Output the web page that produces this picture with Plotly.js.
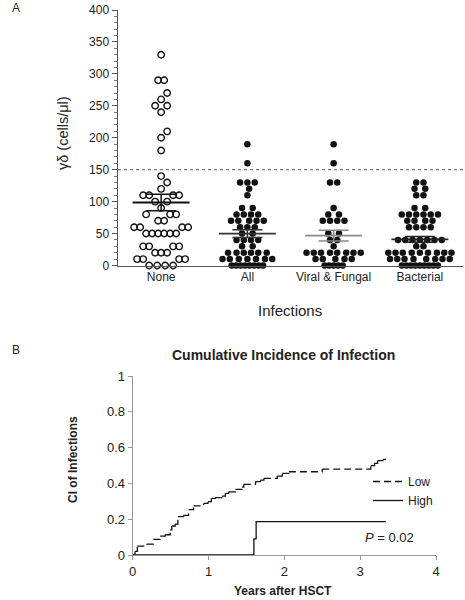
<!DOCTYPE html>
<html>
<head>
<meta charset="utf-8">
<script src="https://cdn.plot.ly/plotly-3.0.1.min.js"></script>
<style>
html,body{margin:0;padding:0;background:#fff;}
#chart{width:465px;height:600px;}
</style>
</head>
<body>
<div id="chart"></div>
<script>
// ---------- Panel A data ----------
const categories = ['None', 'All', 'Viral & Fungal', 'Bacterial'];
const noneValues = [330, 290, 290, 270, 260, 250, 250, 240, 210, 200, 180, 140, 130, 120,
  110, 110, 110, 110, 100, 100, 90, 80, 80, 80, 70, 70, 60, 60, 60, 60,
  50, 50, 50, 50, 50, 50, 30, 30, 30, 30, 20, 20, 20, 10, 10, 10, 10, 0, 0, 0, 0];
const allValues = [190, 160, 130, 130, 130, 120, 110, 90, 90, 80, 80, 80, 80,
  70, 70, 70, 70, 70, 60, 60, 60, 50, 50, 40, 40, 40, 40, 30, 30,
  20, 20, 20, 20, 20, 20, 10, 10, 10, 10, 10, 10, 10, 0, 0, 0, 0, 0, 0, 0, 0];
const viralFungalValues = [190, 160, 130, 130, 90, 80, 80, 70, 70, 70, 70, 50, 50, 40, 40, 30,
  20, 20, 20, 20, 20, 20, 20, 20, 10, 10, 10, 10, 10, 0, 0, 0, 0, 0];
const bacterialValues = [130, 130, 120, 120, 110, 110, 90, 90, 80, 80, 80, 80, 80, 80,
  70, 70, 70, 70, 60, 60, 60, 60, 40, 40, 40, 40, 40, 40, 40, 30, 30,
  20, 20, 20, 20, 20, 20, 20, 20, 20, 10, 10, 10, 10, 10, 10, 10, 10,
  0, 0, 0, 0, 0, 0, 0, 0, 0];
const groupMeans = [98.6, 50, 46.8, 41];
const groupSEM = [13, 6, 8.3, 4.5];
const meanLineColors = ['#111', '#333', '#888', '#222'];
const threshold = 150;

// ---------- Panel B data ----------
const lowYears = [0, 0.03, 0.061, 0.185, 0.273, 0.362, 0.428, 0.494, 0.516, 0.56, 0.596, 0.67,
  0.737, 0.803, 0.935, 0.993, 1.037, 1.09, 1.178, 1.222, 1.267, 1.355, 1.443, 1.465,
  1.62, 1.686, 1.73, 1.907, 1.973, 2.06, 2.5, 3.14, 3.19, 3.23, 3.3, 3.34];
const lowCI = [0, 0.02, 0.05, 0.061, 0.087, 0.106, 0.113, 0.14, 0.162, 0.173, 0.214, 0.221,
  0.254, 0.274, 0.288, 0.298, 0.316, 0.32, 0.329, 0.344, 0.353, 0.367, 0.38, 0.395,
  0.41, 0.418, 0.428, 0.441, 0.456, 0.465, 0.48, 0.499, 0.512, 0.527, 0.534, 0.534];
const highYears = [0, 1.598, 1.628, 3.34];
const highCI = [0, 0.09, 0.186, 0.186];

// ---------- layout geometry ----------
const W = 465, H = 600;
const FONT = 'Liberation Sans, Arial, sans-serif';
const topX0 = 118, topX1 = 463, topY0 = 265.5, topY1 = 10;   // px
const botX0 = 132.7, botX1 = 436, botY0 = 555, botY1 = 376;

const yRangeTop = [0, 400];
const xRangeTop = [-0.5, 3.5];
const pxPerUnitY = (topY0 - topY1) / (yRangeTop[1] - yRangeTop[0]);
const pxPerCat = (topX1 - topX0) / (xRangeTop[1] - xRangeTop[0]);

// beeswarm layout (horizontal offsets computed from the values)
function swarmOffsets(values, opt) {
  const counts = {};
  values.forEach(v => { counts[v] = (counts[v] || 0) + 1; });
  const keys = Object.keys(counts).map(Number).sort((a, b) => a - b);
  const placed = [];
  const out = [];
  const hits = (p, x, y) => {
    if (p.y === y) return Math.abs(p.x - x) < (y === 0 ? opt.s0 : opt.s) - 1e-9;
    if (opt.circ) return (p.x - x) * (p.x - x) + (p.y - y) * (p.y - y) < opt.D * opt.D;
    return Math.abs(p.x - x) < opt.s && Math.abs(p.y - y) < opt.h;
  };
  const free = (x, y) => placed.every(p => !hits(p, x, y));
  keys.forEach(v => {
    let n = counts[v];
    const y = v * pxPerUnitY;
    const sp = v === 0 ? opt.s0 : opt.s;
    if (n % 2 === 1) {
      for (let k = 0; k < 800; k++) {
        const d = k * 0.25;
        let f = null;
        if (free(d, y)) f = d; else if (free(-d, y)) f = -d;
        if (f !== null) { placed.push({x: f, y}); out.push({v, dx: f}); break; }
      }
      n -= 1;
    }
    while (n > 0) {
      for (let x = sp / 2; x < 200; x += 0.25) {
        if (free(x, y) && free(-x, y)) {
          placed.push({x, y}, {x: -x, y});
          out.push({v, dx: -x}, {v, dx: x});
          break;
        }
      }
      n -= 2;
    }
  });
  return out;
}

const groups = [noneValues, allValues, viralFungalValues, bacterialValues];
const swarmOpts = [
  {s: 6, s0: 8, h: 7, circ: false},
  {s: 7.2, s0: 4.5, D: 6.6, circ: true},
  {s: 7.2, s0: 4.5, D: 6.6, circ: true},
  {s: 7.2, s0: 4.5, D: 6.6, circ: true}
];
const traces = [];
groups.forEach((vals, gi) => {
  const sw = swarmOffsets(vals, swarmOpts[gi]);
  traces.push({
    type: 'scatter', mode: 'markers', xaxis: 'x', yaxis: 'y', showlegend: false,
    x: sw.map(p => gi + p.dx / pxPerCat), y: sw.map(p => p.v), cliponaxis: false,
    marker: gi === 0
      ? {symbol: 'circle-open', size: 6.5, color: '#111', line: {width: 1.4, color: '#111'}}
      : {symbol: 'circle', size: 6.5, color: '#111'},
    hoverinfo: 'y'
  });
});
// mean +/- SEM
groups.forEach((vals, gi) => {
  traces.push({
    type: 'scatter', mode: 'markers', xaxis: 'x', yaxis: 'y', showlegend: false,
    x: [gi], y: [groupMeans[gi]], marker: {size: 1, color: 'rgba(0,0,0,0)'},
    error_y: {type: 'data', array: [groupSEM[gi]], visible: true, color: meanLineColors[gi], thickness: 1.5, width: 15},
    hoverinfo: 'skip'
  });
  traces.push({
    type: 'scatter', mode: 'lines', xaxis: 'x', yaxis: 'y', showlegend: false,
    x: [gi - 0.33, gi + 0.33], y: [groupMeans[gi], groupMeans[gi]],
    line: {color: meanLineColors[gi], width: 1.8}, hoverinfo: 'skip'
  });
});

// Panel B: Low curve as step segments
function stepSegments(t, c) {
  const xs = [], ys = [];
  for (let i = 0; i < t.length - 1; i++) {
    xs.push(t[i], t[i + 1], t[i + 1], null);
    ys.push(c[i], c[i], c[i + 1], null);
  }
  return {xs, ys};
}
const lowSeg = stepSegments(lowYears, lowCI);
traces.push({
  type: 'scatter', mode: 'lines', xaxis: 'x2', yaxis: 'y2', name: 'Low',
  x: lowSeg.xs, y: lowSeg.ys, connectgaps: false,
  line: {color: '#111', width: 1.3, dash: '7px,4px'}
});
traces.push({
  type: 'scatter', mode: 'lines', xaxis: 'x2', yaxis: 'y2', name: 'High',
  x: highYears, y: highCI, line: {color: '#111', width: 1.3, shape: 'hv'}, cliponaxis: false
});

const px2x = px => px / W;
const px2y = py => 1 - py / H;

const ann = (text, xp, yp, size, opts) => Object.assign({
  text, x: px2x(xp), y: px2y(yp), xref: 'paper', yref: 'paper', showarrow: false,
  font: {family: FONT, size, color: '#222'}, xanchor: 'center', yanchor: 'middle'
}, opts || {});

const layout = {
  width: W, height: H,
  margin: {l: 0, r: 0, t: 0, b: 0},
  paper_bgcolor: '#fff', plot_bgcolor: 'rgba(0,0,0,0)',
  font: {family: FONT, size: 12, color: '#222'},
  showlegend: true,
  legend: {
    x: px2x(368), y: px2y(467), xanchor: 'left', yanchor: 'top',
    font: {family: FONT, size: 12, color: '#222'}, bgcolor: 'rgba(0,0,0,0)',
    tracegroupgap: 0, itemwidth: 30
  },
  xaxis: {
    domain: [px2x(topX0), px2x(topX1)], range: xRangeTop, anchor: 'y',
    tickmode: 'array', tickvals: [0, 1, 2, 3], ticktext: categories,
    showline: true, linecolor: '#555', linewidth: 1.5, ticks: '', showgrid: false, zeroline: false,
    tickfont: {family: FONT, size: 12, color: '#222'}
  },
  yaxis: {
    domain: [px2y(topY0), px2y(topY1)], range: yRangeTop, anchor: 'x',
    tickmode: 'linear', tick0: 0, dtick: 50, ticks: 'outside', ticklen: 5, tickwidth: 1, tickcolor: '#555',
    minor: {dtick: 10, ticks: 'outside', ticklen: 3, tickcolor: '#777', tickwidth: 1, showgrid: false},
    showline: true, linecolor: '#555', linewidth: 1.5, showgrid: false, zeroline: false,
    tickfont: {family: FONT, size: 12, color: '#222'}
  },
  xaxis2: {
    domain: [px2x(botX0), px2x(botX1)], range: [0, 4], anchor: 'y2',
    tickmode: 'linear', tick0: 0, dtick: 1, ticks: 'outside', ticklen: 4, tickcolor: '#999',
    showline: true, linecolor: '#999', linewidth: 1, showgrid: false, zeroline: false,
    tickfont: {family: FONT, size: 13, color: '#222'}
  },
  yaxis2: {
    domain: [px2y(botY0), px2y(botY1)], range: [0, 1], anchor: 'x2',
    tickmode: 'linear', tick0: 0, dtick: 0.2, ticks: 'outside', ticklen: 4, tickcolor: '#999',
    showline: true, linecolor: '#999', linewidth: 1, showgrid: false, zeroline: false,
    tickfont: {family: FONT, size: 13, color: '#222'}
  },
  shapes: [{
    type: 'line', xref: 'x', yref: 'y', x0: xRangeTop[0], x1: xRangeTop[1], y0: threshold, y1: threshold,
    line: {color: '#777', width: 1.2, dash: 'dot'}
  }],
  annotations: [
    ann('A', 10, 8, 12, {xanchor: 'left'}),
    ann('B', 10, 350, 12, {xanchor: 'left'}),
    ann('γδ (cells/μl)', 63, 133, 14.5, {textangle: -90}),
    ann('Infections', 290, 310, 15),
    ann('<b>Cumulative Incidence of Infection</b>', 283, 355, 14),
    ann('<b>CI of Infections</b>', 73, 460, 12, {textangle: -90}),
    ann('<b>Years after HSCT</b>', 283, 591, 12),
    ann('<i>P</i> = 0.02', 389, 537, 13)
  ]
};

Plotly.newPlot('chart', traces, layout, {displayModeBar: false, staticPlot: true});
</script>
</body>
</html>
